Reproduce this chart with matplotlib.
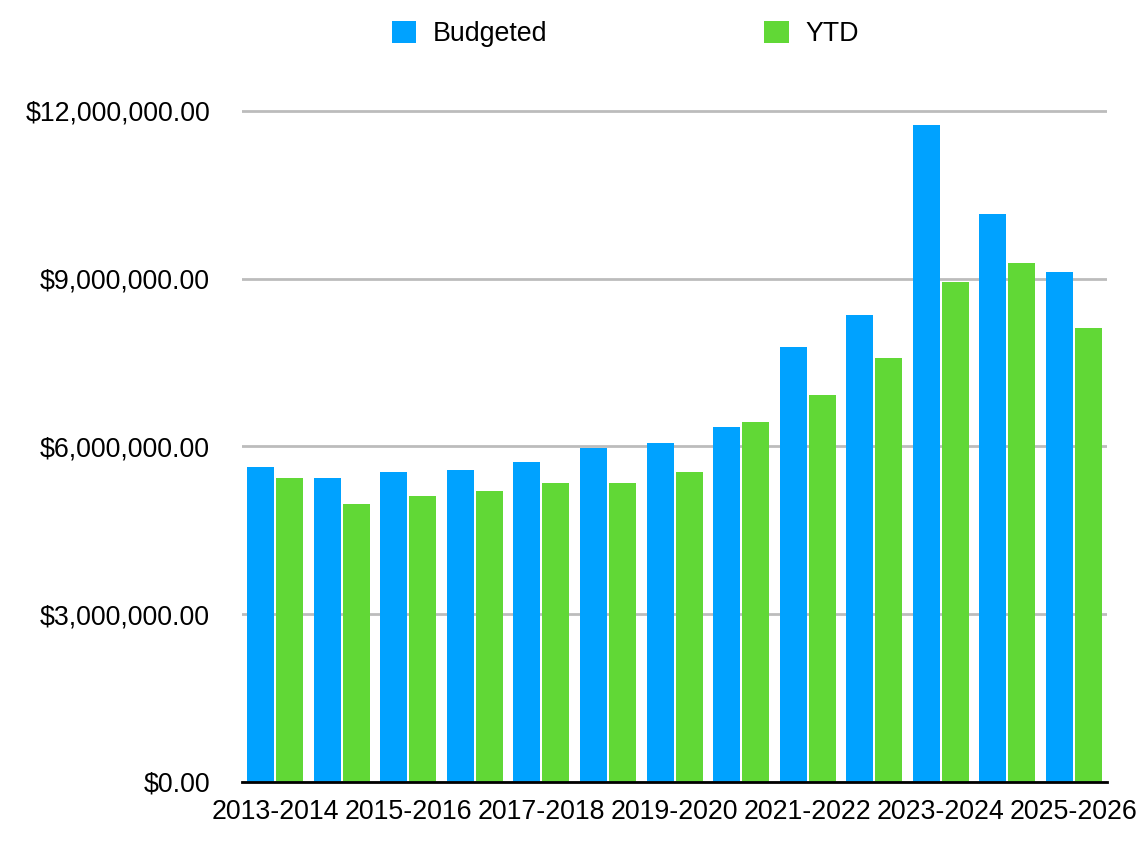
import numpy as np
import matplotlib.pyplot as plt
from matplotlib.ticker import FuncFormatter

# Данни, отчетени от графиката
years = ["2013-2014", "2014-2015", "2015-2016", "2016-2017", "2017-2018",
         "2018-2019", "2019-2020", "2020-2021", "2021-2022", "2022-2023",
         "2023-2024", "2024-2025", "2025-2026"]
budgeted = [5630000, 5440000, 5550000, 5580000, 5720000, 5970000, 6060000,
            6350000, 7780000, 8350000, 11740000, 10160000, 9120000]
ytd = [5440000, 4970000, 5120000, 5210000, 5350000, 5350000, 5550000,
       6440000, 6920000, 7580000, 8930000, 9270000, 8120000]

blue = "#00A2FF"
green = "#61D836"

plt.rcParams['font.family'] = ['Liberation Sans', 'DejaVu Sans']

fig = plt.figure(figsize=(11.45, 8.41), dpi=100)
ax = fig.add_axes([0.2114, 0.0702, 0.7554, 0.8181])

x = np.arange(len(years))
w = 0.406
ax.bar(x - 0.218, budgeted, width=w, color=blue, label="Budgeted", zorder=3)
ax.bar(x + 0.218, ytd, width=w, color=green, label="YTD", zorder=3)

ax.set_xlim(-0.5, len(years) - 0.5)
ax.set_ylim(0, 12300000)
ax.set_yticks([0, 3000000, 6000000, 9000000, 12000000])
ax.yaxis.set_major_formatter(FuncFormatter(lambda v, p: f"${v:,.2f}"))
ax.set_xticks(x[::2])
ax.set_xticklabels(years[::2])

ax.grid(axis='y', color="#bcbcbc", linewidth=2, zorder=0)
for s in ["top", "right", "left"]:
    ax.spines[s].set_visible(False)
ax.spines["bottom"].set_linewidth(2)
ax.spines["bottom"].set_zorder(4)
ax.tick_params(axis='both', length=0, labelsize=19.3)
ax.tick_params(axis='y', pad=23)
ax.tick_params(axis='x', pad=12)

fig.legend(loc='upper left', bbox_to_anchor=(0.333, 0.988), ncol=2, frameon=False,
           fontsize=19.3, handlelength=0.9, handleheight=0.9, handletextpad=0.62,
           columnspacing=8.1, borderaxespad=0)

fig.savefig("out.png", dpi=100)
